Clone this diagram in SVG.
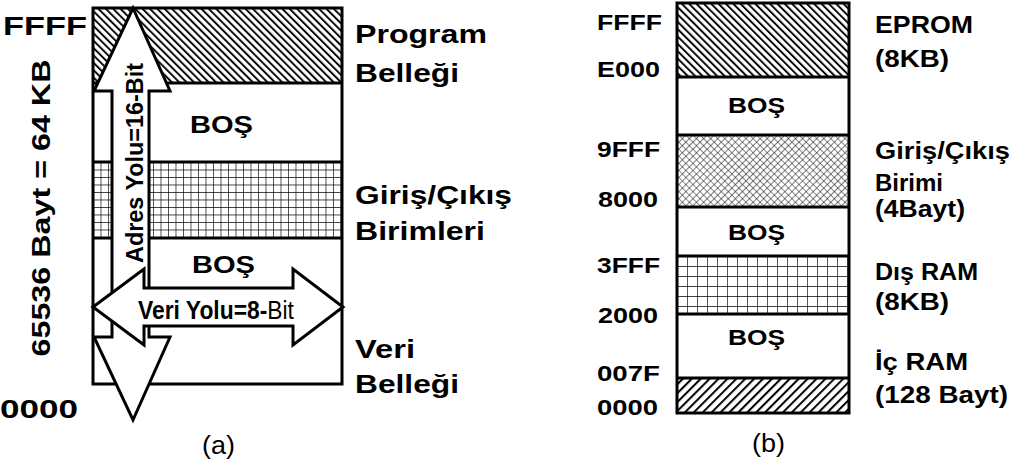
<svg xmlns="http://www.w3.org/2000/svg" width="1016" height="466" viewBox="0 0 1016 466">
<defs>
<pattern id="hatchB" patternUnits="userSpaceOnUse" width="5.2" height="10" patternTransform="rotate(-45)">
<rect width="5.2" height="10" fill="#fff"/>
<line x1="1" y1="0" x2="1" y2="10" stroke="#000" stroke-width="1.9"/>
</pattern>
<pattern id="hatchF" patternUnits="userSpaceOnUse" width="6.3" height="10" patternTransform="rotate(45)">
<rect width="6.3" height="10" fill="#fff"/>
<line x1="1" y1="0" x2="1" y2="10" stroke="#000" stroke-width="2"/>
</pattern>
<pattern id="gridS" patternUnits="userSpaceOnUse" width="7.5" height="7.5" x="93" y="162">
<rect width="7.5" height="7.5" fill="#fff"/>
<path d="M0 0H7.5M0 0V7.5" stroke="#000" stroke-width="1.3" fill="none"/>
</pattern>
<pattern id="gridL" patternUnits="userSpaceOnUse" width="10" height="10" x="677" y="256">
<rect width="10" height="10" fill="#fff"/>
<path d="M0 0H10M0 0V10" stroke="#000" stroke-width="1.3" fill="none"/>
</pattern>
<pattern id="cross" patternUnits="userSpaceOnUse" width="5" height="5" patternTransform="rotate(45)">
<rect width="5" height="5" fill="#fff"/>
<path d="M0 0H5M0 0V5" stroke="#111" stroke-width="1.1" fill="none"/>
</pattern>
</defs>
<style>
.b{font-family:"Liberation Sans",Arial,sans-serif;font-weight:bold;fill:#000}
.r{font-family:"Liberation Sans",Arial,sans-serif;font-weight:normal;fill:#000}
.ln{stroke:#000;stroke-width:3;fill:none}
.arr{fill:#fff;stroke:#000;stroke-width:3;stroke-linejoin:miter}
</style>
<rect width="1016" height="466" fill="#fff"/>

<!-- (a) memory map -->
<g id="a-program">
<rect x="93" y="8" width="249" height="75" fill="url(#hatchB)"/>
</g>
<g id="a-bos1">
<rect x="93" y="83" width="249" height="79" fill="#fff"/>
</g>
<g id="a-io">
<rect x="93" y="162" width="249" height="76" fill="url(#gridS)"/>
</g>
<g id="a-bos2">
<rect x="93" y="238" width="249" height="146" fill="#fff"/>
</g>
<g id="a-frame">
<rect x="93" y="8" width="249" height="376" class="ln"/>
<line x1="93" y1="83" x2="342" y2="83" class="ln"/>
<line x1="93" y1="162" x2="342" y2="162" class="ln"/>
<line x1="93" y1="238" x2="342" y2="238" class="ln"/>
</g>

<g id="connectors">
<polygon class="arr" points="133,8 170,91 149,91 149,337 170,337 133,420 94,337 112,337 112,91 94,91"/>
<polygon class="arr" points="93,307 144,269 144,288 293,288 293,269 343,307 293,345 293,326 144,326 144,345"/>
</g>

<g id="a-labels">
<text class="b" x="3" y="35" font-size="26" textLength="84" lengthAdjust="spacingAndGlyphs">FFFF</text>
<text class="b" x="0" y="418" font-size="26" textLength="78" lengthAdjust="spacingAndGlyphs">0000</text>
<text class="b" transform="translate(50,208) rotate(-90)" x="0" y="0" text-anchor="middle" font-size="26" textLength="297" lengthAdjust="spacingAndGlyphs">65536 Bayt = 64 KB</text>
<text class="b" x="355" y="43" font-size="25" textLength="132" lengthAdjust="spacingAndGlyphs">Program</text>
<text class="b" x="355" y="82" font-size="25" textLength="104" lengthAdjust="spacingAndGlyphs">Belleği</text>
<text class="b" x="355" y="204" font-size="25" textLength="157" lengthAdjust="spacingAndGlyphs">Giriş/Çıkış</text>
<text class="b" x="355" y="240" font-size="25" textLength="130" lengthAdjust="spacingAndGlyphs">Birimleri</text>
<text class="b" x="355" y="358" font-size="25" textLength="60" lengthAdjust="spacingAndGlyphs">Veri</text>
<text class="b" x="355" y="393" font-size="25" textLength="104" lengthAdjust="spacingAndGlyphs">Belleği</text>
<text class="b" x="190" y="133" font-size="23" textLength="63" lengthAdjust="spacingAndGlyphs">BOŞ</text>
<text class="b" x="192" y="273" font-size="23" textLength="63" lengthAdjust="spacingAndGlyphs">BOŞ</text>
<text class="b" transform="translate(143,163) rotate(-90)" x="0" y="0" text-anchor="middle" font-size="24" textLength="200" lengthAdjust="spacingAndGlyphs">Adres Yolu=16-Bit</text>
<text class="b" transform="translate(138,319) scale(0.914,1)" x="0" y="0" font-size="25">Veri Yolu=8-<tspan font-weight="normal">Bit</tspan></text>
<text class="r" x="202" y="454" font-size="26" textLength="33" lengthAdjust="spacingAndGlyphs">(a)</text>
</g>

<!-- (b) memory map -->
<g id="b-eprom">
<rect x="677" y="3" width="172" height="74" fill="url(#hatchB)"/>
<text class="b" x="875" y="33" font-size="24" textLength="98" lengthAdjust="spacingAndGlyphs">EPROM</text>
<text class="b" x="875" y="67" font-size="24" textLength="74" lengthAdjust="spacingAndGlyphs">(8KB)</text>
</g>
<g id="b-bos1">
<rect x="677" y="77" width="172" height="58" fill="#fff"/>
<text class="b" x="728" y="113" font-size="22" textLength="57" lengthAdjust="spacingAndGlyphs">BOŞ</text>
</g>
<g id="b-io">
<rect x="677" y="135" width="172" height="72" fill="url(#cross)"/>
<text class="b" x="875" y="159" font-size="24" textLength="135" lengthAdjust="spacingAndGlyphs">Giriş/Çıkış</text>
<text class="b" x="875" y="191" font-size="24">Birimi</text>
<text class="b" x="875" y="217" font-size="24" textLength="90" lengthAdjust="spacingAndGlyphs">(4Bayt)</text>
</g>
<g id="b-bos2">
<rect x="677" y="207" width="172" height="49" fill="#fff"/>
<text class="b" x="728" y="240" font-size="22" textLength="57" lengthAdjust="spacingAndGlyphs">BOŞ</text>
</g>
<g id="b-disram">
<rect x="677" y="256" width="172" height="58" fill="url(#gridL)"/>
<text class="b" x="875" y="280" font-size="24" textLength="103" lengthAdjust="spacingAndGlyphs">Dış RAM</text>
<text class="b" x="875" y="310" font-size="24" textLength="74" lengthAdjust="spacingAndGlyphs">(8KB)</text>
</g>
<g id="b-bos3">
<rect x="677" y="314" width="172" height="64" fill="#fff"/>
<text class="b" x="728" y="345" font-size="22" textLength="57" lengthAdjust="spacingAndGlyphs">BOŞ</text>
</g>
<g id="b-icram">
<rect x="677" y="378" width="172" height="35" fill="url(#hatchF)"/>
<text class="b" x="875" y="370" font-size="24" textLength="93" lengthAdjust="spacingAndGlyphs">İç RAM</text>
<text class="b" x="875" y="403" font-size="24" textLength="133" lengthAdjust="spacingAndGlyphs">(128 Bayt)</text>
</g>
<g id="b-frame">
<rect x="677" y="3" width="172" height="410" class="ln"/>
<line x1="677" y1="77" x2="849" y2="77" class="ln"/>
<line x1="677" y1="135" x2="849" y2="135" class="ln"/>
<line x1="677" y1="207" x2="849" y2="207" class="ln"/>
<line x1="677" y1="256" x2="849" y2="256" class="ln"/>
<line x1="677" y1="314" x2="849" y2="314" class="ln"/>
<line x1="677" y1="378" x2="849" y2="378" class="ln"/>
</g>
<g id="b-addresses">
<text class="b" x="597" y="30" font-size="22" textLength="65" lengthAdjust="spacingAndGlyphs">FFFF</text>
<text class="b" x="597" y="77" font-size="22" textLength="63" lengthAdjust="spacingAndGlyphs">E000</text>
<text class="b" x="597" y="157" font-size="22" textLength="63" lengthAdjust="spacingAndGlyphs">9FFF</text>
<text class="b" x="598" y="207" font-size="22" textLength="60" lengthAdjust="spacingAndGlyphs">8000</text>
<text class="b" x="597" y="273" font-size="22" textLength="63" lengthAdjust="spacingAndGlyphs">3FFF</text>
<text class="b" x="598" y="323" font-size="22" textLength="60" lengthAdjust="spacingAndGlyphs">2000</text>
<text class="b" x="597" y="381" font-size="22" textLength="63" lengthAdjust="spacingAndGlyphs">007F</text>
<text class="b" x="597" y="415" font-size="22" textLength="61" lengthAdjust="spacingAndGlyphs">0000</text>
<text class="r" x="752" y="452" font-size="26" textLength="33" lengthAdjust="spacingAndGlyphs">(b)</text>
</g>
</svg>
